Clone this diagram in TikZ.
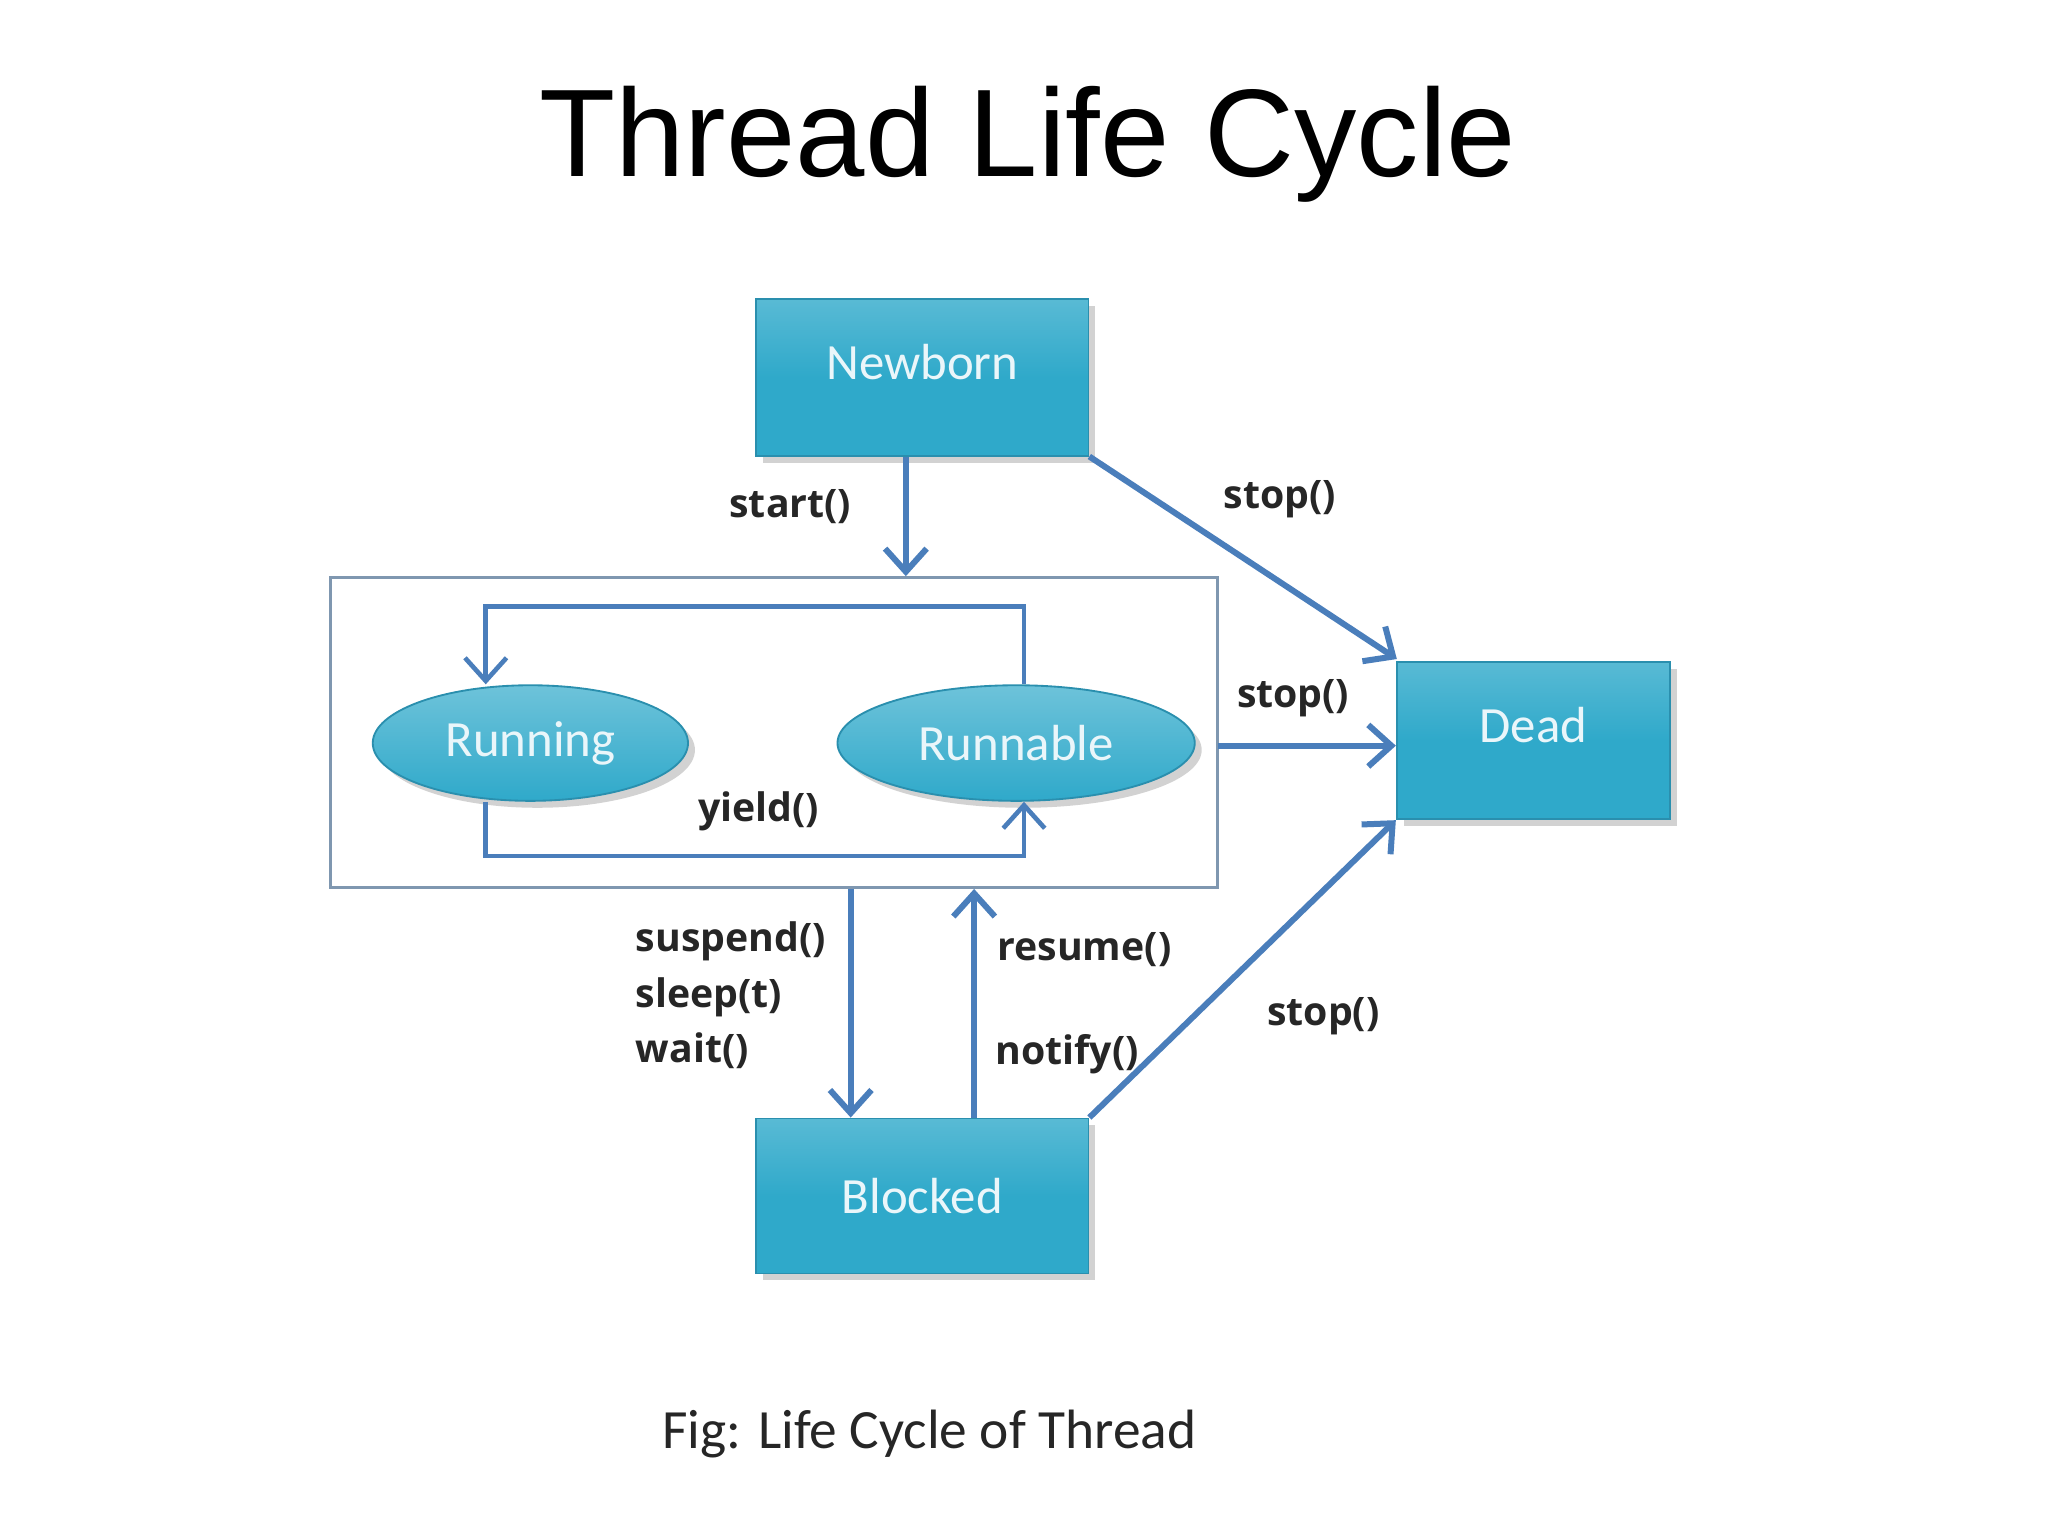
\documentclass[tikz,border=0pt]{standalone}
\usepackage{fontspec}
\setmainfont{Carlito}
\newfontfamily\titlefont{Liberation Sans}
\newfontfamily\labfont{Open Sans}
\usetikzlibrary{arrows.meta,shapes.geometric,shadows}
\definecolor{boxc}{HTML}{2FA9CA}
\definecolor{boxd}{HTML}{2A8FAE}
\definecolor{arr}{HTML}{4A7EBB}
\definecolor{frame}{HTML}{7F97B0}
\definecolor{btxt}{HTML}{EAF6FA}
\tikzset{
  statebox/.style={rectangle,draw=boxd,top color=boxc!80!white,bottom color=boxc,middle color=boxc,
    text=btxt,font=\fontsize{11}{13}\selectfont,inner sep=0pt,
    drop shadow={shadow xshift=1.5pt,shadow yshift=-1.5pt,opacity=0.35}},
  stateell/.style={ellipse,draw=boxd,top color=boxc!70!white,bottom color=boxc,
    text=btxt,font=\fontsize{11}{13}\selectfont,inner sep=0pt,
    drop shadow={shadow xshift=1.5pt,shadow yshift=-1.5pt,opacity=0.35}},
  conn/.style={draw=arr,line width=1.3pt,-{Straight Barb[length=5pt,width=9pt]}},
  lab/.style={font=\labfont\bfseries\fontsize{8.5}{10}\selectfont,text=black!85}
}
\begin{document}
\begin{tikzpicture}[x=0.01cm,y=-0.01cm]
\useasboundingbox[fill=white] (0,0) rectangle (1560,1170);
\node[font=\titlefont\fontsize{27}{30}\selectfont] (title) at (783,110) {Thread Life Cycle};
\node[statebox,minimum width=2.53cm,minimum height=1.19cm] (newborn) at (702.5,287.5) {\raisebox{0.6em}{Newborn}};
\node[statebox,minimum width=2.08cm,minimum height=1.2cm] (dead) at (1168,564) {\raisebox{0.6em}{Dead}};
\node[statebox,minimum width=2.53cm,minimum height=1.18cm] (blocked) at (702.5,911) {Blocked};
\node[draw=frame,line width=0.6pt,minimum width=6.75cm,minimum height=2.36cm,inner sep=0pt] (frame) at (589.5,558) {};
\node[stateell,minimum width=2.4cm,minimum height=0.88cm] (running) at (404,566) {Running};
\node[stateell,minimum width=2.72cm,minimum height=0.88cm] (runnable) at (774,566) {Runnable};
\coordinate (ra) at (780,462);
\coordinate (rb) at (370,462);
\coordinate (rc) at (370,652);
\coordinate (rd) at (780,652);
\draw[conn,line width=1pt] (runnable.north -| ra) -- (ra) -- (rb) -- (running.north -| rb);
\draw[conn,line width=1pt] (running.south -| rc) -- (rc) -- (rd) -- (runnable.south -| rd);
\node[lab] (yl) at (578,618) {yield()};
\coordinate (s1) at (690,438);
\draw[conn] (newborn.south -| s1) -- (frame.north -| s1);
\node[lab] (startl) at (602,386) {start()};
\draw[conn] (newborn.south east) -- (1064,502);
\node[lab] (st1) at (975,380) {stop()};
\draw[conn] (928,568) -- (dead.west |- 0,568);
\node[lab] (st2) at (985,532) {stop()};
\coordinate (sa) at (648,676);
\draw[conn] (frame.south -| sa) -- (blocked.north -| sa);
\node[lab,align=left,anchor=north west] (susp) at (472,690) {suspend()\\[2pt]sleep(t)\\[2pt]wait()};
\coordinate (ua) at (742,676);
\draw[conn] (blocked.north -| ua) -- (frame.south -| ua);
\node[lab] (res) at (826,723) {resume()};
\node[lab] (not) at (813,803) {notify()};
\draw[conn] (blocked.north east) -- (dead.south west);
\node[lab] (st3) at (1008,774) {stop()};
\node[font=\fontsize{12}{14}\selectfont,text=black!85] (cap) at (708,1092) {Fig: Life Cycle of Thread};
\end{tikzpicture}
\end{document}
